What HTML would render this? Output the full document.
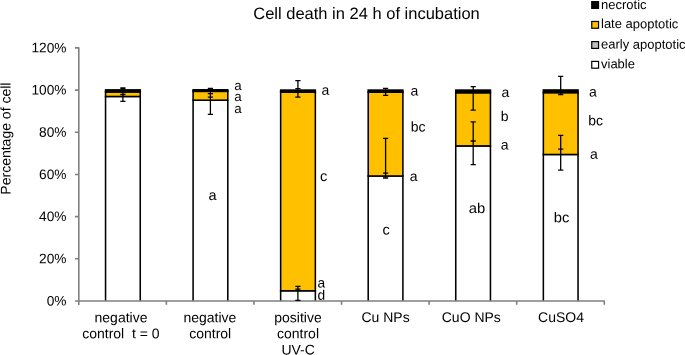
<!DOCTYPE html>
<html><head><meta charset="utf-8">
<style>
html,body{margin:0;padding:0;background:#fff;overflow:hidden;}
svg{display:block;will-change:transform;font-size:13.33px;}
text{font-family:"Liberation Sans",sans-serif;fill:#000;white-space:pre;text-rendering:geometricPrecision;}
.ax{stroke:#808080;stroke-width:1.6;fill:none;}
.b{stroke:#000;stroke-width:1.55;}
.e{stroke:#000;stroke-width:1.3;fill:none;}
</style></head><body>
<svg width="685" height="355" viewBox="0 0 685 355">
<rect width="685" height="355" fill="#fff"/>
<text transform="translate(366.50,19.00) matrix(1 .001 0 1 0 0)" font-size="16.5" text-anchor="middle">Cell death in 24 h of incubation</text>
<text font-size="14" transform="translate(10.45,138.6) rotate(-90) matrix(1 .001 0 1 0 0)" text-anchor="middle">Percentage of cell</text>
<g class="b">
<path d="M105.55 301.0V96.5H140.25V301.0" fill="#fff"/>
<rect x="105.55" y="91.8" width="34.7" height="4.70" fill="#ffc000"/>
<rect x="104.78" y="89.1" width="36.25" height="3.70" fill="#000" stroke="none"/>
<path d="M193.10 301.0V100.2H227.80V301.0" fill="#fff"/>
<rect x="193.10" y="91.2" width="34.7" height="9.00" fill="#ffc000"/>
<rect x="192.32" y="89.0" width="36.25" height="3.20" fill="#000" stroke="none"/>
<path d="M280.65 301.0V290.8H315.35V301.0" fill="#fff"/>
<rect x="280.65" y="91.9" width="34.7" height="198.90" fill="#ffc000"/>
<rect x="279.88" y="89.3" width="36.25" height="3.60" fill="#000" stroke="none"/>
<path d="M368.20 301.0V176.0H402.90V301.0" fill="#fff"/>
<rect x="368.20" y="92.0" width="34.7" height="84.00" fill="#ffc000"/>
<rect x="367.43" y="89.3" width="36.25" height="3.70" fill="#000" stroke="none"/>
<path d="M455.75 301.0V145.9H490.45V301.0" fill="#fff"/>
<rect x="455.75" y="92.6" width="34.7" height="53.30" fill="#ffc000"/>
<rect x="454.98" y="89.3" width="36.25" height="4.30" fill="#000" stroke="none"/>
<path d="M543.35 301.0V154.5H578.05V301.0" fill="#fff"/>
<rect x="543.35" y="92.5" width="34.7" height="62.00" fill="#ffc000"/>
<rect x="542.58" y="89.2" width="36.25" height="4.30" fill="#000" stroke="none"/>
</g>
<path class="ax" d="M78.8 47.199999999999996V305.0 M74.89999999999999 301.0H604.9 M74.89999999999999 47.90H78.8 M74.89999999999999 90.08H78.8 M74.89999999999999 132.27H78.8 M74.89999999999999 174.45H78.8 M74.89999999999999 216.63H78.8 M74.89999999999999 258.82H78.8 M166.38 301.0V304.8 M253.96 301.0V304.8 M341.54 301.0V304.8 M429.12 301.0V304.8 M516.70 301.0V304.8 M604.28 301.0V304.8 "/>
<text transform="translate(66.50,52.40) matrix(1 .001 0 1 0 0)" font-size="13.7" text-anchor="end">120%</text>
<text transform="translate(66.50,94.58) matrix(1 .001 0 1 0 0)" font-size="13.7" text-anchor="end">100%</text>
<text transform="translate(66.50,136.77) matrix(1 .001 0 1 0 0)" font-size="13.7" text-anchor="end">80%</text>
<text transform="translate(66.50,178.95) matrix(1 .001 0 1 0 0)" font-size="13.7" text-anchor="end">60%</text>
<text transform="translate(66.50,221.13) matrix(1 .001 0 1 0 0)" font-size="13.7" text-anchor="end">40%</text>
<text transform="translate(66.50,263.32) matrix(1 .001 0 1 0 0)" font-size="13.7" text-anchor="end">20%</text>
<text transform="translate(66.50,305.50) matrix(1 .001 0 1 0 0)" font-size="13.7" text-anchor="end">0%</text>
<path class="e" d="M122.9 87.9V101.3 M120.30000000000001 87.9H125.5 M120.30000000000001 88.6H125.5 M120.30000000000001 94.5H125.5 M120.30000000000001 101.3H125.5 M210.4 88.3V114.4 M207.8 88.3H213.0 M207.8 93.6H213.0 M207.8 97.1H213.0 M207.8 114.4H213.0 M297.9 80.7V97.1 M295.29999999999995 80.7H300.5 M295.29999999999995 88.6H300.5 M295.29999999999995 97.1H300.5 M297.9 286.3V300.4 M295.29999999999995 286.3H300.5 M295.29999999999995 289.2H300.5 M295.29999999999995 300.4H300.5 M385.6 88.3V95.3 M383.0 88.3H388.20000000000005 M383.0 95.3H388.20000000000005 M385.6 138.4V178 M383.0 138.4H388.20000000000005 M383.0 173.1H388.20000000000005 M383.0 178.0H388.20000000000005 M473.2 86.7V110.2 M470.59999999999997 86.7H475.8 M470.59999999999997 110.2H475.8 M473.2 121.8V164.6 M470.59999999999997 121.8H475.8 M470.59999999999997 141H475.8 M470.59999999999997 164.6H475.8 M560.7 76.3V94.5 M558.1 76.3H563.3000000000001 M558.1 94.5H563.3000000000001 M560.7 135.3V170.2 M558.1 135.3H563.3000000000001 M558.1 149.1H563.3000000000001 M558.1 170.2H563.3000000000001 "/>
<text transform="translate(234.30,90.00) matrix(1 .001 0 1 0 0)" font-size="13.3">a</text>
<text transform="translate(234.30,100.90) matrix(1 .001 0 1 0 0)" font-size="13.3">a</text>
<text transform="translate(234.30,113.00) matrix(1 .001 0 1 0 0)" font-size="13.3">a</text>
<text transform="translate(208.40,200.00) matrix(1 .001 0 1 0 0)" font-size="14.5">a</text>
<text transform="translate(321.60,94.70) matrix(1 .001 0 1 0 0)" font-size="14">a</text>
<text transform="translate(320.00,181.10) matrix(1 .001 0 1 0 0)" font-size="14.6">c</text>
<text transform="translate(317.40,287.50) matrix(1 .001 0 1 0 0)" font-size="13.8">a</text>
<text transform="translate(317.40,299.70) matrix(1 .001 0 1 0 0)" font-size="13.8">d</text>
<text transform="translate(410.50,95.55) matrix(1 .001 0 1 0 0)" font-size="14">a</text>
<text transform="translate(410.80,131.40) matrix(1 .001 0 1 0 0)" font-size="14">bc</text>
<text transform="translate(409.70,180.90) matrix(1 .001 0 1 0 0)" font-size="14">a</text>
<text transform="translate(382.50,234.50) matrix(1 .001 0 1 0 0)" font-size="14.5">c</text>
<text transform="translate(501.40,97.00) matrix(1 .001 0 1 0 0)" font-size="14">a</text>
<text transform="translate(500.80,121.10) matrix(1 .001 0 1 0 0)" font-size="14">b</text>
<text transform="translate(500.80,149.50) matrix(1 .001 0 1 0 0)" font-size="14">a</text>
<text transform="translate(468.80,213.00) matrix(1.042 .001 0 1 0 0)" font-size="14.2">ab</text>
<text transform="translate(588.90,96.50) matrix(1 .001 0 1 0 0)" font-size="14">a</text>
<text transform="translate(588.30,125.20) matrix(1 .001 0 1 0 0)" font-size="14">bc</text>
<text transform="translate(590.10,158.80) matrix(1 .001 0 1 0 0)" font-size="14">a</text>
<text transform="translate(553.70,222.30) matrix(1.042 .001 0 1 0 0)" font-size="14.2">bc</text>
<text transform="translate(121.00,322.20) matrix(1 .001 0 1 0 0)" font-size="14" text-anchor="middle">negative</text>
<text transform="translate(120.90,338.20) matrix(1 .001 0 1 0 0)" font-size="14" text-anchor="middle">control  t = 0</text>
<text transform="translate(209.90,322.20) matrix(1 .001 0 1 0 0)" font-size="14" text-anchor="middle">negative</text>
<text transform="translate(210.20,338.20) matrix(1 .001 0 1 0 0)" font-size="14" text-anchor="middle">control</text>
<text transform="translate(298.00,322.20) matrix(1 .001 0 1 0 0)" font-size="14" text-anchor="middle">positive</text>
<text transform="translate(298.00,338.20) matrix(1 .001 0 1 0 0)" font-size="14" text-anchor="middle">control</text>
<text transform="translate(298.10,354.50) matrix(1 .001 0 1 0 0)" font-size="14" text-anchor="middle">UV-C</text>
<text transform="translate(385.50,322.00) matrix(1 .001 0 1 0 0)" font-size="14" text-anchor="middle">Cu NPs</text>
<text transform="translate(471.30,322.00) matrix(1 .001 0 1 0 0)" font-size="14" text-anchor="middle">CuO NPs</text>
<text transform="translate(561.00,322.00) matrix(1 .001 0 1 0 0)" font-size="14" text-anchor="middle">CuSO4</text>
<rect x="591.75" y="1.60" width="6.8" height="6.8" fill="#000" stroke="#000" stroke-width="1.2"/>
<text transform="translate(601.00,8.90) matrix(1 .001 0 1 0 0)" font-size="13">necrotic</text>
<rect x="591.75" y="21.45" width="6.8" height="6.8" fill="#ffc000" stroke="#000" stroke-width="1.2"/>
<text transform="translate(601.00,28.10) matrix(1 .001 0 1 0 0)" font-size="13">late apoptotic</text>
<rect x="591.75" y="41.60" width="6.8" height="6.8" fill="#bfbfbf" stroke="#000" stroke-width="1.2"/>
<text transform="translate(601.00,48.60) matrix(1 .001 0 1 0 0)" font-size="13">early apoptotic</text>
<rect x="591.75" y="61.40" width="6.8" height="6.8" fill="#fff" stroke="#000" stroke-width="1.2"/>
<text transform="translate(601.00,68.20) matrix(1 .001 0 1 0 0)" font-size="13">viable</text>
</svg>
</body></html>
